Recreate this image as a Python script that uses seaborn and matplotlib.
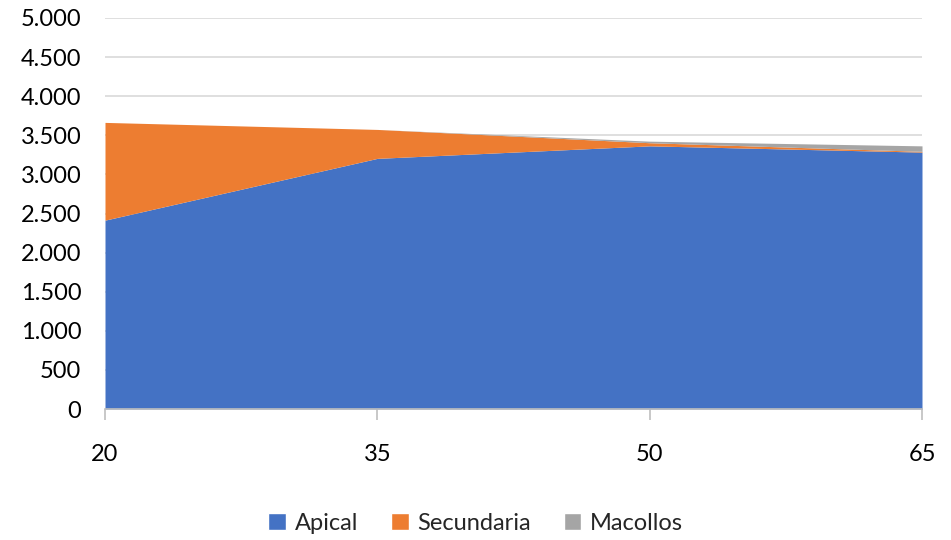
import matplotlib
matplotlib.use("Agg")
import matplotlib.pyplot as plt
from matplotlib.patches import Patch
import seaborn as sns
import pandas as pd

dias = [20, 35, 50, 65]
apical = [2415, 3205, 3365, 3285]
secundaria = [1250, 370, 40, 10]
macollos = [0, 0, 20, 70]
series = ["Apical", "Secundaria", "Macollos"]
colors = ["#4472C4", "#ED7D31", "#A5A5A5"]
yticks = [0, 500, 1000, 1500, 2000, 2500, 3000, 3500, 4000, 4500, 5000]

df = pd.DataFrame({"dia": dias, "Apical": apical, "Secundaria": secundaria, "Macollos": macollos})

sns.set_theme(style="white")
plt.rcParams["font.family"] = ["Lato", "DejaVu Sans"]

fig = plt.figure(figsize=(9.51, 5.40), dpi=100)
ax = fig.add_axes([105/951, 1-409/540, (922-105)/951, (409-18)/540])

ax.stackplot(df["dia"], df["Apical"], df["Secundaria"], df["Macollos"],
             colors=colors, labels=series, linewidth=0)

ax.set_xlim(20, 65)
ax.set_ylim(0, 5000)
ax.set_xticks(dias)
ax.set_xticklabels([str(d) for d in dias])
ax.set_yticks(yticks)
ax.set_yticklabels([f"{v:,}".replace(",", ".") for v in yticks])
ax.yaxis.grid(True, color="#D9D9D9", linewidth=1.2)
ax.set_axisbelow(True)
for s in ["top", "right", "left"]:
    ax.spines[s].set_visible(False)
ax.spines["bottom"].set_color("#BFBFBF")
ax.spines["bottom"].set_linewidth(1.2)
ax.spines["bottom"].set_zorder(5)
ax.tick_params(axis="x", bottom=True, length=8, width=1.2, color="#BFBFBF",
               pad=17, labelsize=17, labelcolor="#000000")
ax.tick_params(axis="y", left=False, pad=11, labelsize=17, labelcolor="#000000")
ax.set_xlabel("")
ax.set_ylabel("")

handles = [Patch(facecolor=c, label=l) for c, l in zip(colors, series)]
fig.legend(handles=handles, loc="center", bbox_to_anchor=(0.5, 1-523/540), ncol=3,
           frameon=False, fontsize=17, handlelength=0.75, handleheight=0.75,
           handletextpad=0.35, columnspacing=1.4)

fig.savefig("out.png", dpi=100)
